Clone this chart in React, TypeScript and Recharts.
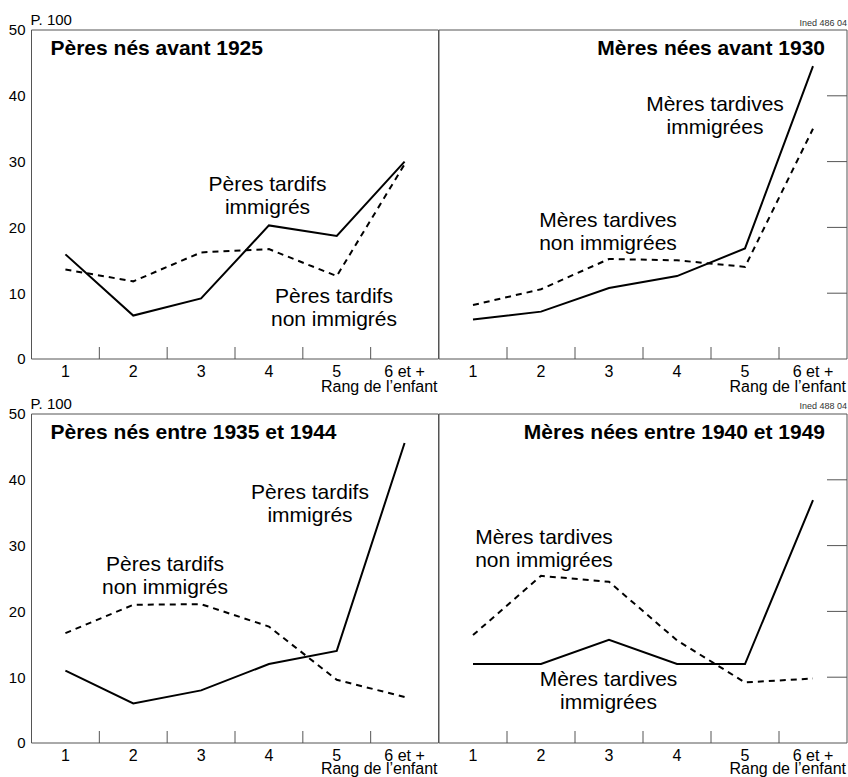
import React from "react";
import { LineChart, Line, XAxis, YAxis, ReferenceArea } from "recharts";

// ---- Data ----
const categories = ["1", "2", "3", "4", "5", "6 et +"];
const categoryPositions = [1, 2, 3, 4, 5, 6];
const yLabelTicks = [0, 10, 20, 30, 40, 50];
const yInnerTicks = [10, 20, 30, 40];
const boundaryTicks = [1.5, 2.5, 3.5, 4.5, 5.5];

const peresAvant1925Immigres = [15.9, 6.6, 9.2, 20.3, 18.7, 30.0];
const peresAvant1925NonImmigres = [13.6, 11.8, 16.2, 16.7, 12.6, 29.6];
const meresAvant1930Immigrees = [6.0, 7.2, 10.8, 12.6, 16.8, 44.5];
const meresAvant1930NonImmigrees = [8.2, 10.6, 15.2, 15.0, 14.0, 35.0];
const peres1935a1944Immigres = [11.0, 6.0, 8.0, 12.0, 14.0, 45.6];
const peres1935a1944NonImmigres = [16.7, 21.0, 21.1, 17.7, 9.6, 7.0];
const meres1940a1949Immigrees = [12.0, 12.0, 15.7, 12.0, 12.0, 36.9];
const meres1940a1949NonImmigrees = [16.4, 25.4, 24.5, 15.6, 9.2, 9.8];

// ---- Styles ----
const FONT = "'Liberation Sans', Arial, Helvetica, sans-serif";
const FRAME = "#555";

function buildRows(imm: number[], non: number[]) {
  return categories.map((c, i) => ({ x: categoryPositions[i], cat: c, imm: imm[i], non: non[i] }));
}

const noTick = () => <g />;

type PanelProps = {
  side: "left" | "right";
  x0: number;
  x1: number;
  y0: number;
  y1: number;
  rows: { x: number; cat: string; imm: number; non: number }[];
};

function Panel({ side, x0, x1, y0, y1, rows }: PanelProps) {
  const isLeft = side === "left";
  const boxLeft = isLeft ? 0 : x0 - 2;
  const width = isLeft ? x1 + 2 : x1 - x0 + 4;
  const boxTop = y0 - 30;
  const height = y1 - y0 + 70;
  const yId = isLeft ? "lab" : "r";
  return (
    <div style={{ position: "absolute", left: boxLeft, top: boxTop }}>
      <LineChart
        width={width}
        height={height}
        data={rows}
        margin={{ top: 30, bottom: 10, left: isLeft ? 0 : 2, right: 2 }}
      >
        <XAxis
          xAxisId="lab"
          dataKey="x"
          type="number"
          domain={[0.5, 6.5]}
          ticks={categoryPositions}
          tickFormatter={(v: number) => categories[v - 1]}
          interval={0}
          tickLine={false}
          axisLine={false}
          tickSize={0}
          tickMargin={7}
          height={30}
          tick={{ fontSize: 16, fill: "#000", fontFamily: FONT }}
        />
        <XAxis
          xAxisId="b"
          dataKey="x"
          type="number"
          domain={[0.5, 6.5]}
          ticks={boundaryTicks}
          interval={0}
          mirror
          tickSize={12}
          axisLine={false}
          tick={noTick}
          tickLine={{ stroke: FRAME, strokeWidth: 1 }}
        />
        {isLeft && (
          <YAxis
            yAxisId="lab"
            orientation="left"
            width={x0}
            type="number"
            domain={[0, 50]}
            ticks={yLabelTicks}
            interval={0}
            tickLine={false}
            axisLine={false}
            tickSize={0}
            tickMargin={6}
            tick={{ fontSize: 15, fill: "#000", fontFamily: FONT }}
          />
        )}
        {isLeft && (
          <YAxis
            yAxisId="in"
            orientation="left"
            mirror
            type="number"
            domain={[0, 50]}
            ticks={yInnerTicks}
            interval={0}
            tickSize={20}
            axisLine={false}
            tick={noTick}
            tickLine={{ stroke: FRAME, strokeWidth: 1 }}
          />
        )}
        {!isLeft && (
          <YAxis
            yAxisId="r"
            orientation="right"
            mirror
            type="number"
            domain={[0, 50]}
            ticks={yInnerTicks}
            interval={0}
            tickSize={20}
            axisLine={false}
            tick={noTick}
            tickLine={{ stroke: FRAME, strokeWidth: 1 }}
          />
        )}
        <ReferenceArea
          xAxisId="lab"
          yAxisId={yId}
          x1={0.5}
          x2={6.5}
          y1={0}
          y2={50}
          fill="none"
          fillOpacity={0}
          stroke={FRAME}
          strokeWidth={1}
        />
        <Line
          xAxisId="lab"
          yAxisId={yId}
          type="linear"
          dataKey="non"
          stroke="#000"
          strokeWidth={2}
          strokeDasharray="6 5"
          dot={false}
          isAnimationActive={false}
        />
        <Line
          xAxisId="lab"
          yAxisId={yId}
          type="linear"
          dataKey="imm"
          stroke="#000"
          strokeWidth={2}
          dot={false}
          isAnimationActive={false}
        />
      </LineChart>
    </div>
  );
}

type TextProps = {
  left: number;
  top: number;
  size: number;
  lh: number;
  align: "left" | "center" | "right";
  bold?: boolean;
  color?: string;
  children: React.ReactNode;
};

function T({ left, top, size, lh, align, bold, color, children }: TextProps) {
  const transform = align === "center" ? "translateX(-50%)" : align === "right" ? "translateX(-100%)" : "none";
  return (
    <div
      style={{
        position: "absolute",
        left,
        top,
        fontSize: size,
        lineHeight: `${lh}px`,
        fontFamily: FONT,
        fontWeight: bold ? 700 : 400,
        color: color || "#000",
        textAlign: align,
        whiteSpace: "nowrap",
        transform,
      }}
    >
      {children}
    </div>
  );
}

function Note({ cx, top, l1, l2 }: { cx: number; top: number; l1: string; l2: string }) {
  return (
    <T left={cx} top={top} size={21} lh={23} align="center">
      {l1}
      <br />
      {l2}
    </T>
  );
}

export default function App() {
  const XL0 = 31.5;
  const XMID = 438.5;
  const XR1 = 846.5;
  const TOP0 = 29.5;
  const TOP1 = 358.5;
  const BOT0 = 413.5;
  const BOT1 = 742.5;
  return (
    <div style={{ position: "absolute", left: 0, top: 0, width: 848, height: 777, background: "#fff", overflow: "hidden" }}>
      <Panel side="left" x0={XL0} x1={XMID} y0={TOP0} y1={TOP1} rows={buildRows(peresAvant1925Immigres, peresAvant1925NonImmigres)} />
      <Panel side="right" x0={XMID} x1={XR1} y0={TOP0} y1={TOP1} rows={buildRows(meresAvant1930Immigrees, meresAvant1930NonImmigrees)} />
      <Panel side="left" x0={XL0} x1={XMID} y0={BOT0} y1={BOT1} rows={buildRows(peres1935a1944Immigres, peres1935a1944NonImmigres)} />
      <Panel side="right" x0={XMID} x1={XR1} y0={BOT0} y1={BOT1} rows={buildRows(meres1940a1949Immigrees, meres1940a1949NonImmigrees)} />

      {/* units */}
      <T left={30.5} top={12} size={15} lh={16} align="left">P. 100</T>
      <T left={30.5} top={396} size={15} lh={16} align="left">P. 100</T>

      {/* source codes */}
      <T left={847} top={17.5} size={9} lh={10} align="right" color="#333">Ined 486 04</T>
      <T left={847} top={400.5} size={9} lh={10} align="right" color="#333">Ined 488 04</T>

      {/* titles */}
      <T left={50.5} top={35.8} size={21} lh={23} align="left" bold>Pères nés avant 1925</T>
      <T left={825} top={35.8} size={21} lh={23} align="right" bold>Mères nées avant 1930</T>
      <T left={50.5} top={419.5} size={21} lh={23} align="left" bold>Pères nés entre 1935 et 1944</T>
      <T left={825} top={419.5} size={21} lh={23} align="right" bold>Mères nées entre 1940 et 1949</T>

      {/* axis titles */}
      <T left={437.5} top={377.7} size={16} lh={18} align="right">Rang de l’enfant</T>
      <T left={846} top={377.7} size={16} lh={18} align="right">Rang de l’enfant</T>
      <T left={437.5} top={761} size={16} lh={16} align="right">Rang de l’enfant</T>
      <T left={846} top={761} size={16} lh={16} align="right">Rang de l’enfant</T>

      {/* annotations */}
      <Note cx={267.5} top={171.5} l1="Pères tardifs" l2="immigrés" />
      <Note cx={334} top={283.5} l1="Pères tardifs" l2="non immigrés" />
      <Note cx={715} top={92} l1="Mères tardives" l2="immigrées" />
      <Note cx={608} top={208} l1="Mères tardives" l2="non immigrées" />
      <Note cx={310} top={479.5} l1="Pères tardifs" l2="immigrés" />
      <Note cx={165} top={552} l1="Pères tardifs" l2="non immigrés" />
      <Note cx={544} top={524.7} l1="Mères tardives" l2="non immigrées" />
      <Note cx={608.5} top={667} l1="Mères tardives" l2="immigrées" />
    </div>
  );
}
